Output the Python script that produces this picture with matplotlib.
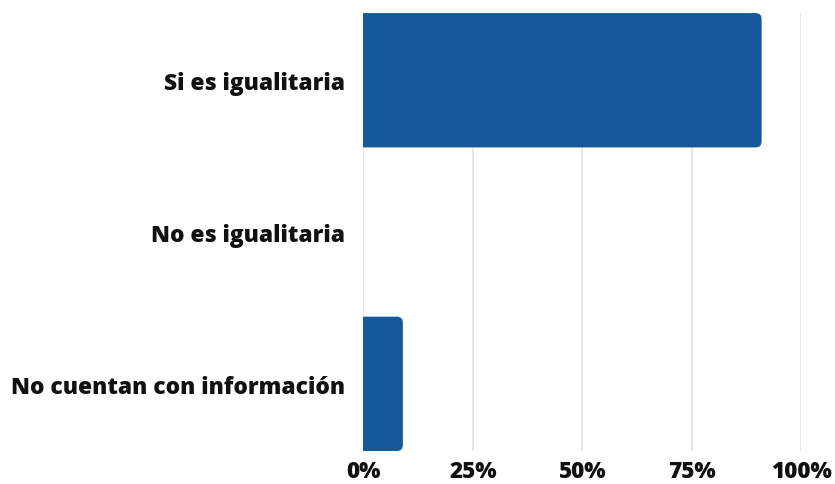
import matplotlib
matplotlib.use("Agg")
import matplotlib.pyplot as plt
from matplotlib.patches import FancyBboxPatch

categories = ["Si es igualitaria", "No es igualitaria", "No cuentan con información"]
values = [91, 0, 9]
xticks = [0, 25, 50, 75, 100]
xtick_labels = ["0%", "25%", "50%", "75%", "100%"]

bar_color = "#15599a"
grid_color = "#e3e3e3"

fig = plt.figure(figsize=(8.35, 4.85), dpi=100)
ax = fig.add_axes([0.4353, 0.068, 0.524, 0.903])

bar_h = 0.885
bars = ax.barh(range(len(categories)), values, height=bar_h, color=bar_color, zorder=3)

ax.set_xlim(0, 100)
ax.set_ylim(len(categories) - 1 + bar_h / 2, -bar_h / 2)

# swap plain rectangles for rounded ones (right-hand corners visible)
fig.canvas.draw()
x_per_px = 100 / ax.bbox.width
y_per_px = (len(categories) - 1 + bar_h) / ax.bbox.height
radius_px = 6
rs = radius_px * x_per_px
for rect, v in zip(bars.patches, values):
    if v <= 0:
        rect.set_visible(False)
        continue
    y0 = rect.get_y()
    h = rect.get_height()
    rounded = FancyBboxPatch((-rs, y0), v + rs, h,
                             boxstyle=f"round,pad=0,rounding_size={rs}",
                             mutation_aspect=y_per_px / x_per_px,
                             facecolor=bar_color, edgecolor="none", zorder=3,
                             clip_on=True)
    ax.add_patch(rounded)
    rect.set_visible(False)

ax.set_xticks(xticks)
ax.set_xticklabels(xtick_labels)
ax.set_yticks(range(len(categories)))
ax.set_yticklabels(categories)

for lbl in ax.get_yticklabels():
    lbl.set_fontfamily("Open Sans")
    lbl.set_fontweight(800)
    lbl.set_fontsize(16.4)
for lbl in ax.get_xticklabels():
    lbl.set_fontfamily("Open Sans")
    lbl.set_fontweight(800)
    lbl.set_fontsize(16.2)

ax.tick_params(axis="y", length=0, pad=13, colors="#111111")
ax.tick_params(axis="x", length=0, pad=6, colors="#111111")

ax.grid(axis="x", color=grid_color, linewidth=1.2, zorder=0)
ax.grid(axis="y", visible=False)
for s in ax.spines.values():
    s.set_visible(False)

fig.savefig("out.png", dpi=100, facecolor="white")
